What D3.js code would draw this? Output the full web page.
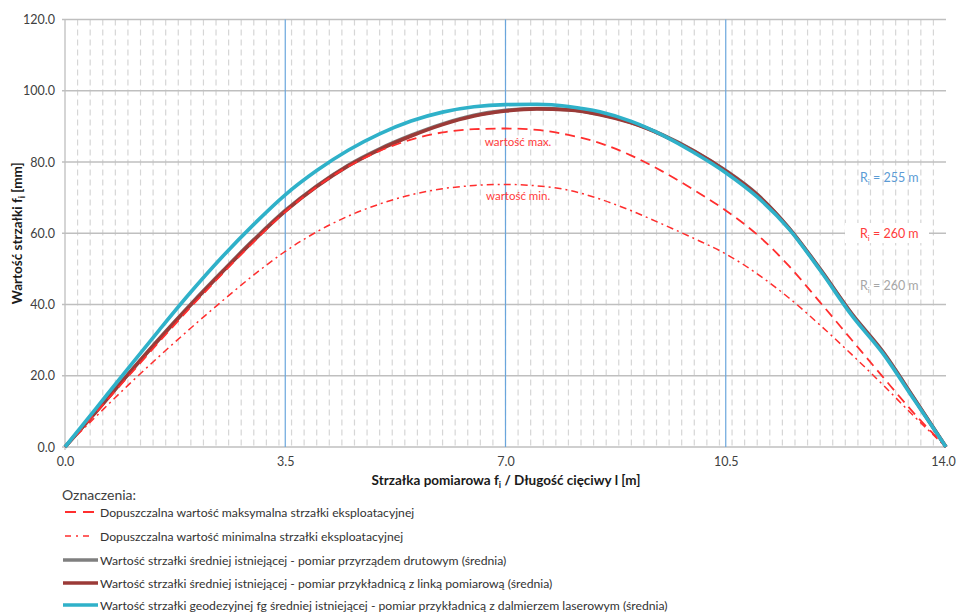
<!DOCTYPE html>
<html>
<head>
<meta charset="utf-8">
<script src="https://cdn.jsdelivr.net/npm/d3@7"></script>
<style>
  html, body { margin: 0; padding: 0; background: #fff; }
  svg { display: block; font-family: Lato, "Open Sans", sans-serif; }
</style>
</head>
<body>
<svg id="chart" width="957" height="613"></svg>
<script>
// ---- data ----
const xPositions = [0,0.5,1,1.5,2,2.5,3,3.5,4,4.5,5,5.5,6,6.5,7,7.5,8,8.5,9,9.5,10,10.5,11,11.5,12,12.5,13,13.5,14];
const maxAllowed = [0,9.8,19.7,29.6,39.3,48.6,57.6,66.0,73.0,78.7,83.1,86.3,88.3,89.2,89.4,89.0,87.6,85.3,81.8,77.3,72.1,66.4,59.6,50.9,40.6,30.1,19.6,9.3,0];
const minAllowed = [0,8.7,17.3,25.5,33.4,41.0,48.3,54.9,60.4,64.8,68.2,70.8,72.5,73.4,73.7,73.3,72.1,69.6,66.3,62.5,58.5,54.2,48.6,41.9,34.2,26.0,17.4,8.5,0];
const wireMeasured = [0,10.1,20.4,30.5,40.1,49.3,58.2,66.4,73.3,79.1,83.7,87.5,90.7,93.1,94.5,95.0,94.7,93.4,91.1,87.6,83.1,77.6,70.9,61.6,50.0,37.5,26.7,13.5,0];
const lineMeasured = [0,10.0,20.3,30.3,39.9,49.1,58.0,66.2,73.1,78.9,83.5,87.3,90.5,92.9,94.3,94.9,94.6,93.3,91.0,87.5,83.0,77.5,70.8,61.5,49.9,37.4,26.6,13.4,0];
const geodetic = [0,11.0,22.0,32.9,43.5,53.4,62.5,70.8,77.6,83.3,87.9,91.5,94.0,95.5,96.1,96.2,95.6,94.1,91.4,87.5,82.6,77.0,70.2,61.3,49.6,37.0,26.2,13.1,0];
const xTicks = [0, 3.5, 7, 10.5, 14];
const yTicks = [0, 20, 40, 60, 80, 100, 120];
const blueMarks = [3.5, 7, 10.5];
const legendLabels = [
  "Dopuszczalna wartość maksymalna strzałki eksploatacyjnej",
  "Dopuszczalna wartość minimalna strzałki eksploatacyjnej",
  "Wartość strzałki średniej istniejącej - pomiar przyrządem drutowym (średnia)",
  "Wartość strzałki średniej istniejącej - pomiar przykładnicą z linką pomiarową (średnia)",
  "Wartość strzałki geodezyjnej fg średniej istniejącej - pomiar przykładnicą z dalmierzem laserowym (średnia)"
];
const radiusLabels = [
  {value: "255 m", color: "#5b9bd5"},
  {value: "260 m", color: "#ff3b3b"},
  {value: "260 m", color: "#a6a6a6"}
];

// ---- scales ----
const svg = d3.select("#chart");
const x = d3.scaleLinear().domain([0, 14]).range([65, 946]);
const y = d3.scaleLinear().domain([0, 120]).range([447, 19.5]);

// minor vertical dashed grid every 0.2
const minor = d3.range(1, 70).map(i => +(i * 0.2).toFixed(1)).filter(v => v < 14);
svg.append("g").selectAll("line").data(minor).join("line")
  .attr("x1", d => x(d)).attr("x2", d => x(d))
  .attr("y1", y(120)).attr("y2", y(0))
  .attr("stroke", "#d6d6d6").attr("stroke-width", 1.2)
  .attr("stroke-dasharray", "6,4");

// horizontal grid
svg.append("g").selectAll("line").data(yTicks).join("line")
  .attr("x1", x(0) - 3).attr("x2", x(14))
  .attr("y1", d => y(d)).attr("y2", d => y(d))
  .attr("stroke", "#bfbfbf").attr("stroke-width", 1.3);

// left axis line
svg.append("line")
  .attr("x1", x(0)).attr("x2", x(0)).attr("y1", y(120)).attr("y2", y(0) + 3)
  .attr("stroke", "#bfbfbf").attr("stroke-width", 1.3);

// blue vertical markers
svg.append("g").selectAll("line").data(blueMarks).join("line")
  .attr("x1", d => x(d)).attr("x2", d => x(d))
  .attr("y1", y(120)).attr("y2", y(0))
  .attr("stroke", "#6aa6dc").attr("stroke-width", 1.2);

// axes tick labels
const yAxis = d3.axisLeft(y).tickValues(yTicks).tickFormat(d3.format(".1f")).tickSize(0).tickPadding(10);
const gy = svg.append("g").attr("transform", `translate(${x(0)},0)`).call(yAxis);
gy.select(".domain").remove();
gy.selectAll("text").attr("font-size", 12.5).attr("fill", "#404040").attr("font-family", "Lato, sans-serif");

const xAxis = d3.axisBottom(x).tickValues(xTicks).tickFormat(d3.format(".1f")).tickSize(0).tickPadding(10);
const gx = svg.append("g").attr("transform", `translate(0,${y(0)})`).call(xAxis);
gx.select(".domain").remove();
gx.selectAll("text").attr("font-size", 12.5).attr("fill", "#404040").attr("font-family", "Lato, sans-serif");
gx.selectAll(".tick").filter(d => d === 14).select("text").attr("dx", -3);

// axis titles
const yt = svg.append("text")
  .attr("transform", `translate(22,${(y(0) + y(120)) / 2}) rotate(-90)`)
  .attr("text-anchor", "middle").attr("font-size", 13.5).attr("font-weight", "bold").attr("fill", "#1a1a1a");
yt.append("tspan").text("Wartość strzałki f");
yt.append("tspan").attr("font-size", 9).attr("dy", 3).text("i");
yt.append("tspan").attr("dy", -3).text(" [mm]");

const xt = svg.append("text")
  .attr("x", 506).attr("y", 485)
  .attr("text-anchor", "middle").attr("font-size", 13.5).attr("font-weight", "bold").attr("fill", "#1a1a1a");
xt.append("tspan").text("Strzałka pomiarowa f");
xt.append("tspan").attr("font-size", 9).attr("dy", 3).text("i");
xt.append("tspan").attr("dy", -3).text(" / Długość cięciwy l [m]");

// ---- series ----
const line = d3.line().x(d => x(d[0])).y(d => y(d[1])).curve(d3.curveMonotoneX);
const pairs = arr => xPositions.map((v, i) => [v, arr[i]]);

const series = [
  {data: wireMeasured, color: "#7f7f7f", width: 3.6, dash: null},
  {data: lineMeasured, color: "#9b3a37", width: 3.6, dash: null},
  {data: maxAllowed, color: "#ff2e2e", width: 1.8, dash: "10,6"},
  {data: minAllowed, color: "#ff2e2e", width: 1.5, dash: "7,4,2,4"},
  {data: geodetic, color: "#2fb1c9", width: 3.6, dash: null}
];
svg.append("g").selectAll("path").data(series).join("path")
  .attr("d", d => line(pairs(d.data)))
  .attr("fill", "none")
  .attr("stroke", d => d.color)
  .attr("stroke-width", d => d.width)
  .attr("stroke-dasharray", d => d.dash)
  .attr("stroke-linejoin", "round");

// in-plot labels
svg.append("text").attr("x", x(7.2)).attr("y", 146).attr("text-anchor", "middle")
  .attr("font-size", 11.5).attr("fill", "#ff3b3b").text("wartość max.");
svg.append("text").attr("x", x(7.2)).attr("y", 200).attr("text-anchor", "middle")
  .attr("font-size", 11.5).attr("fill", "#ff3b3b").text("wartość min.");

const rY = [177, 233, 285];
radiusLabels.forEach((r, i) => {
  if (i === 1) {
    svg.append("rect").attr("x", 845).attr("y", rY[i] - 10).attr("width", 84).attr("height", 20).attr("fill", "#fff");
  }
  const t = svg.append("text").attr("x", 860).attr("y", rY[i] + 5)
    .attr("font-size", 12.5).attr("fill", r.color);
  t.append("tspan").text("R");
  t.append("tspan").attr("font-size", 8).attr("dy", 3).text("i");
  t.append("tspan").attr("dy", -3).text(" = " + r.value);
});

// ---- legend ----
svg.append("text").attr("x", 62).attr("y", 500).attr("font-size", 14).attr("fill", "#404040").text("Oznaczenia:");
const legendY = [512, 536, 560, 583, 605];
const legendStyles = [series[2], series[3], series[0], series[1], series[4]];
legendLabels.forEach((lab, i) => {
  const st = legendStyles[i];
  const thin = st.dash !== null;
  svg.append("line")
    .attr("x1", thin ? 65 : 63).attr("x2", thin ? 94 : 98)
    .attr("y1", legendY[i]).attr("y2", legendY[i])
    .attr("stroke", st.color).attr("stroke-width", st.width)
    .attr("stroke-dasharray", i === 0 ? "11,7" : (i === 1 ? "6,5,2,5" : null));
  svg.append("text").attr("x", 100).attr("y", legendY[i] + 4.5)
    .attr("font-size", 12.2).attr("fill", "#333").text(lab);
});
</script>
</body>
</html>
